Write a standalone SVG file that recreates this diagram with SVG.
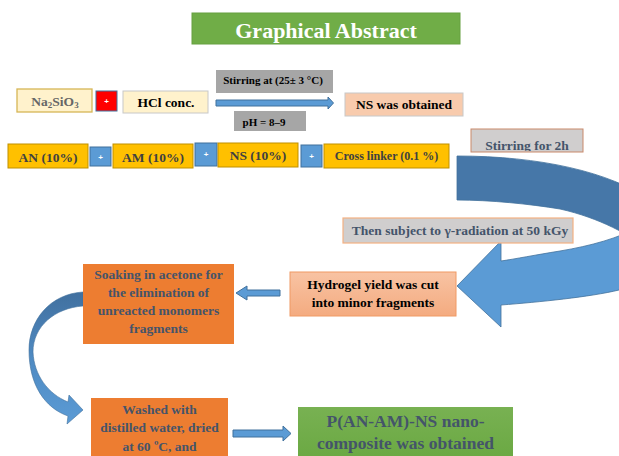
<svg xmlns="http://www.w3.org/2000/svg" width="619" height="456" viewBox="0 0 619 456">
<style>
text{font-family:"Liberation Serif","Times New Roman",serif;font-weight:bold;text-anchor:middle}
.t13{font-size:13.5px}
.dark{fill:#44546a}
.blk{fill:#000}
.gry{fill:#404040}
.cream{fill:#fff2cc}
.gold{fill:#ffc000;stroke:#bf9000;stroke-width:1}
.plus{fill:#5b9bd5;stroke:#41719c;stroke-width:1}
.pl{fill:#fff;font-size:8px;font-family:"Liberation Sans",Arial,sans-serif}
.grey{fill:#a6a6a6}
.lgrey{fill:#d0cece}
.orange{fill:#ed7d31}
.arr{fill:#5b9bd5;stroke:#41719c;stroke-width:1}
</style>
<defs>
<linearGradient id="peach" x1="0" y1="0" x2="0" y2="1"><stop offset="0" stop-color="#f8c3a3"/><stop offset="1" stop-color="#f4ab80"/></linearGradient>
<linearGradient id="green" x1="0" y1="0" x2="0" y2="1"><stop offset="0" stop-color="#78b152"/><stop offset="1" stop-color="#6aa842"/></linearGradient>
<linearGradient id="lcurve" x1="0" y1="292" x2="0" y2="424" gradientUnits="userSpaceOnUse"><stop offset="0" stop-color="#41709f"/><stop offset="0.5" stop-color="#4f8ac2"/><stop offset="1" stop-color="#5b9bd5"/></linearGradient>
<clipPath id="c2h"><rect x="471" y="129" width="112" height="22"/></clipPath>
</defs>

<g id="title">
<rect x="192" y="13" width="268" height="31" fill="#70ad47" stroke="#66a040" stroke-width="1"/>
<text x="326" y="37.5" style="font-size:22px;fill:#fff">Graphical Abstract</text>
</g>

<g id="na2sio3">
<rect x="17" y="89" width="75" height="23" class="cream" stroke="#d6b656" stroke-width="1.3"/>
<text x="55" y="105.5" class="t13" fill="#666">Na<tspan font-size="9" dy="2">2</tspan><tspan dy="-2">SiO</tspan><tspan font-size="9" dy="2">3</tspan></text>
</g>
<g id="plus-red">
<rect x="96" y="91" width="21" height="20" fill="#ff0000" stroke="#41719c" stroke-width="1"/>
<text x="106.5" y="104" class="pl">+</text>
</g>
<g id="hcl">
<rect x="123" y="91" width="85" height="22" class="cream" stroke="#c8c8c8" stroke-width="1"/>
<text x="166" y="107" class="t13 blk">HCl conc.</text>
</g>
<g id="stirring-at">
<rect x="216" y="70" width="117" height="23" class="grey"/>
<text x="273" y="84" class="blk" font-size="11px">Stirring at (25± 3 °C)</text>
</g>
<g id="ph">
<rect x="234" y="111" width="72" height="20" class="grey"/>
<text x="264" y="126" class="blk" font-size="11px">pH = 8–9</text>
</g>
<g id="ns-obtained">
<rect x="345" y="93" width="118" height="23" fill="#f8cbad" stroke="#c8c8c8" stroke-width="1"/>
<text x="404" y="109" class="t13 blk">NS was obtained</text>
</g>

<g id="an">
<rect x="8" y="144" width="80" height="24" class="gold"/>
<text x="48" y="162" class="t13 gry">AN (10%)</text>
</g>
<g id="plus1">
<rect x="90" y="147" width="21" height="19" class="plus"/>
<text x="100.5" y="159.5" class="pl">+</text>
</g>
<g id="am">
<rect x="113" y="144" width="80" height="24" class="gold"/>
<text x="153" y="162" class="t13 gry">AM (10%)</text>
</g>
<g id="plus2">
<rect x="195" y="143" width="22" height="23" class="plus"/>
<text x="206" y="157" class="pl">+</text>
</g>
<g id="ns10">
<rect x="218" y="143" width="80" height="24" class="gold"/>
<text x="258" y="160" class="t13 gry">NS (10%)</text>
</g>
<g id="plus3">
<rect x="301" y="145" width="21" height="22" class="plus"/>
<text x="311.5" y="159" class="pl">+</text>
</g>
<g id="crosslinker">
<rect x="324" y="144" width="125" height="24" class="gold"/>
<text x="386.5" y="160" class="gry" font-size="12px">Cross linker (0.1 %)</text>
</g>

<g id="connectors">
<path class="arr" d="M216,100 L328,100 L328,97 L333.5,103 L328,109 L328,106 L216,106 Z"/>
<path d="M457,156 C540,156 610,172 650,200 L650,250 C630,235 600,218 560,209 C530,204 490,200 457,200 Z" fill="#4677a8" stroke="#41719c" stroke-width="0.8"/>
<path d="M640,226 C620,238 590,246 560,251 C535,255 515,259 501,261 L501,241 L457,286 L501,327 L501,305 C540,302 590,297 619,290 C645,284 660,268 660,250 Z" fill="#5b9bd5" stroke="#41719c" stroke-width="0.8"/>
<path class="arr" d="M280,290 L247,290 L247,286 L236,293 L247,300 L247,296 L280,296 Z"/>
<path d="M83,292 C50,294 29,320 29,350 C29,385 45,408 68,416 L67,424 L83,410 L69,395 L68,402 C48,394 34,375 33,352 C33,326 55,308 83,306 Z" fill="url(#lcurve)" stroke="#41719c" stroke-width="0.6"/>
<path class="arr" d="M233,430 L283,430 L283,426 L291,433.5 L283,441 L283,437 L233,437 Z"/>
</g>

<g id="stirring-2h">
<rect x="471" y="129" width="112" height="23" class="lgrey" stroke="#c9896b" stroke-width="1"/>
<text x="527" y="150" class="t13 dark" clip-path="url(#c2h)">Stirring for 2h</text>
</g>
<g id="gamma">
<rect x="343" y="218" width="230" height="25" class="lgrey" stroke="#f4b183" stroke-width="1.2"/>
<text x="460" y="234.5" class="t13 dark">Then subject to γ-radiation at 50 kGy</text>
</g>
<g id="hydrogel">
<rect x="290" y="272" width="166" height="44" fill="url(#peach)" stroke="#f09a64" stroke-width="1"/>
<text x="373" y="288.5" class="t13 blk">Hydrogel yield was cut</text>
<text x="373" y="307" class="t13 blk">into minor fragments</text>
</g>
<g id="soaking">
<rect x="83" y="264" width="151" height="80" class="orange"/>
<text x="158.5" y="279" class="t13 dark">Soaking in acetone for</text>
<text x="158.5" y="297" class="t13 dark">the elimination of</text>
<text x="158.5" y="315" class="t13 dark">unreacted monomers</text>
<text x="158.5" y="333" class="t13 dark">fragments</text>
</g>
<g id="washed">
<rect x="91" y="398" width="137" height="70" class="orange"/>
<text x="159.5" y="413.5" class="t13 dark">Washed with</text>
<text x="159.5" y="432" class="t13 dark">distilled water, dried</text>
<text x="159.5" y="450.5" class="t13 dark">at 60 ºC, and</text>
</g>
<g id="product">
<rect x="298" y="407" width="215" height="55" fill="url(#green)"/>
<text x="405.5" y="427" class="dark" font-size="17.5px">P(AN-AM)-NS nano-</text>
<text x="405.5" y="448.5" class="dark" font-size="17.5px">composite was obtained</text>
</g>
</svg>
